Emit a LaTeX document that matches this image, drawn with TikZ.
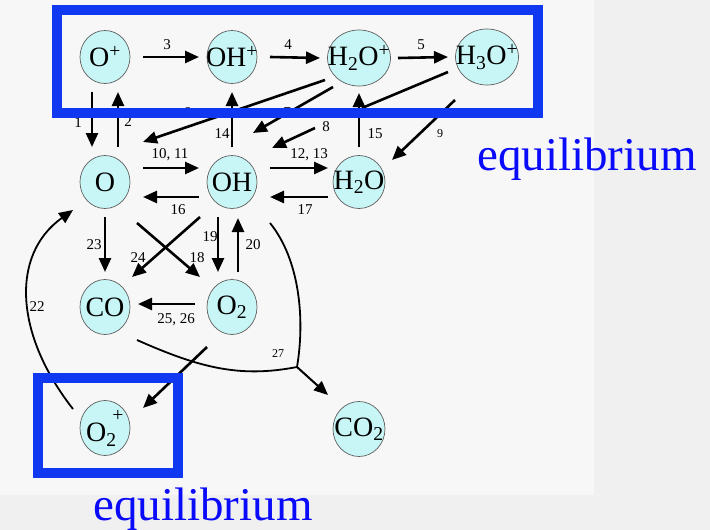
\documentclass[tikz,border=0pt]{standalone}
\usepackage{fontspec}
\setmainfont{Liberation Serif}
\usetikzlibrary{shapes.geometric,arrows.meta,calc}
\definecolor{bgbase}{RGB}{247,247,247}
\definecolor{bgtex}{RGB}{240,240,240}
\definecolor{spfill}{RGB}{200,245,245}
\definecolor{spline}{RGB}{95,95,95}
\definecolor{boxblue}{RGB}{16,56,240}
\definecolor{eqblue}{RGB}{10,10,250}
\newcommand{\zw}[1]{\makebox[0pt]{#1}}
\begin{document}
\begin{tikzpicture}[x=1pt,y=-1pt,
  sp/.style={ellipse,draw=spline,line width=0.7pt,fill=spfill,inner sep=0pt,
    minimum width=50pt,minimum height=53pt,font=\fontsize{28}{28}\selectfont},
  wide/.style={minimum width=63pt,minimum height=56pt},
  arr/.style={line width=2.6pt,-{Triangle[length=14pt,width=12pt]}},
  plain/.style={line width=2.6pt},
  crv/.style={line width=1.8pt},
  lab/.style={font=\fontsize{15}{15}\selectfont,inner sep=0pt},
  slab/.style={font=\fontsize{12}{12}\selectfont,inner sep=0pt},
  eq/.style={font=\fontsize{47}{47}\selectfont,text=eqblue,anchor=base,inner sep=0pt},
  bluebox/.style={draw=boxblue,line width=10pt}
]
% background
\fill[bgbase] (0,0) rectangle (710,530);
\fill[bgtex] (594,0) rectangle (710,530);
\fill[bgtex] (0,495) rectangle (710,530);
\useasboundingbox (0,0) rectangle (710,530);

% species
\node[sp] (Op) at (105,57) {\zw{O\textsuperscript{+}}};
\node[sp] (OHp) at (232,57) {\zw{OH\textsuperscript{+}}};
\node[sp,wide] (H2Op) at (359,58) {\zw{H\textsubscript{2}O\textsuperscript{+}}};
\node[sp,wide] (H3Op) at (487,57) {\zw{H\textsubscript{3}O\textsuperscript{+}}};
\node[sp] (O) at (105,182) {\zw{O}};
\node[sp] (OH) at (232,182) {\zw{OH}};
\node[sp,minimum width=52pt] (H2O) at (359,182) {\zw{H\textsubscript{2}O}};
\node[sp,minimum height=55pt] (CO) at (105,307) {\zw{CO}};
\node[sp,minimum height=55pt] (O2) at (232,307) {\zw{O\textsubscript{2}}};
\node[sp,minimum height=55pt] (O2p) at (105,428) {\zw{O\textsubscript{2}\kern-0.15em\raisebox{0.9ex}{\textsuperscript{+}}}};
\node[sp,minimum width=52pt,minimum height=55pt] (CO2) at (359,429) {\zw{CO\textsubscript{2}}};

% free ends
\coordinate (c8a) at (362,108);
\coordinate (c8b) at (315,128);
\coordinate (j27) at (297,367);

% top row
\draw[arr] ($(Op)+(38,0)$) -- ($(OHp)+(-33,0)$);
\draw[arr] ($(OHp)+(38,0)$) -- ($(H2Op)+(-39,0)$);
\draw[arr] ($(H2Op)+(39,0)$) -- ($(H3Op)+(-39,0)$);
% verticals
\draw[arr] ($(Op)+(-13,35)$) -- ($(O)+(-13,-35)$);
\draw[arr] ($(O)+(13,-35)$) -- ($(Op)+(13,35)$);
\draw[arr] ($(OH)+(0,-35)$) -- ($(OHp)+(0,35)$);
\draw[arr] ($(H2O)+(0,-35)$) -- ($(H2Op)+(0,35)$);
% diagonals from ions
\draw[arr] ($(H2Op)+(-34,22)$) -- ($(O)+(38,-40)$);
\draw[arr] ($(H2Op)+(-26,29)$) -- ($(OH)+(21,-49)$);
\draw[plain] ($(H3Op)+(-39,15)$) -- (c8a);
\draw[arr] (c8b) -- ($(OH)+(40,-34)$);
\draw[arr] ($(H3Op)+(-32,43)$) -- ($(H2O)+(33,-22)$);
% middle row
\draw[arr] ($(O)+(38,-14)$) -- ($(OH)+(-33,-14)$);
\draw[arr] ($(OH)+(38,-14)$) -- ($(H2O)+(-31,-14)$);
\draw[arr] ($(OH)+(-33,15)$) -- ($(O)+(38,15)$);
\draw[arr] ($(H2O)+(-31,15)$) -- ($(OH)+(38,15)$);
% lower part
\draw[arr] ($(O)+(0,35)$) -- ($(CO)+(0,-35)$);
\draw[arr] ($(OH)+(-32,35)$) -- ($(CO)+(27,-30)$);
\draw[arr] ($(O)+(32,41)$) -- ($(O2)+(-32,-30)$);
\draw[arr] ($(OH)+(-14,35)$) -- ($(O2)+(-14,-35)$);
\draw[arr] ($(O2)+(6,-35)$) -- ($(OH)+(6,36)$);
\draw[arr] ($(O2)+(-37,-3)$) -- ($(CO)+(33,-3)$);
\draw[arr] ($(O2)+(-25,40)$) -- ($(O2p)+(38,-20)$);
% curves
\draw[crv,-{Triangle[length=14pt,width=12pt]}] ($(O2p)+(-32,-19)$) .. controls (15,335) and (10,255) .. ($(O)+(-32,28)$);
\draw[crv] ($(CO)+(32,33)$) .. controls (200,368) and (240,378) .. (j27);
\draw[crv] ($(OH)+(38,41)$) .. controls (300,260) and (305,320) .. (j27);
\draw[arr,line width=2pt] (j27) -- ($(CO2)+(-31,-34)$);

% labels
\node[lab] (l3) at (167,45) {3};
\node[lab] (l4) at (288,45) {4};
\node[lab] (l5) at (421,45) {5};
\node[lab] (l1) at (78,123) {1};
\node[lab] (l2) at (128,122) {2};
\node[lab] (l6) at (187,113) {6};
\node[lab] (l7) at (287,113) {7};
\node[lab] (l14) at (222,134) {14};
\node[lab] (l15) at (375,134) {15};
\node[lab] (l8) at (326,127) {8};
\node[slab] (l9) at (440,134) {9};
\node[lab] (l1011) at (170,155) {10, 11};
\node[lab] (l1213) at (309,155) {12, 13};
\node[lab] (l16) at (178,210) {16};
\node[lab] (l17) at (305,210) {17};
\node[lab] (l23) at (94,245) {23};
\node[lab] (l24) at (138,258) {24};
\node[lab] (l18) at (197,258) {18};
\node[lab] (l19) at (210,237) {19};
\node[lab] (l20) at (253,245) {20};
\node[lab] (l2526) at (176,320) {25, 26};
\node[lab] (l22) at (37,307) {22};
\node[slab] (l27) at (278,354) {27};
\node[slab] (l21) at (151,380) {21};

% equilibrium boxes
\draw[bluebox] (57,9.5) rectangle (537.5,113);
\draw[bluebox] (38,378) rectangle (178,473);
\node[eq] (eq1) at (587,170) {equilibrium};
\node[eq] (eq2) at (203,520) {equilibrium};
\end{tikzpicture}
\end{document}
